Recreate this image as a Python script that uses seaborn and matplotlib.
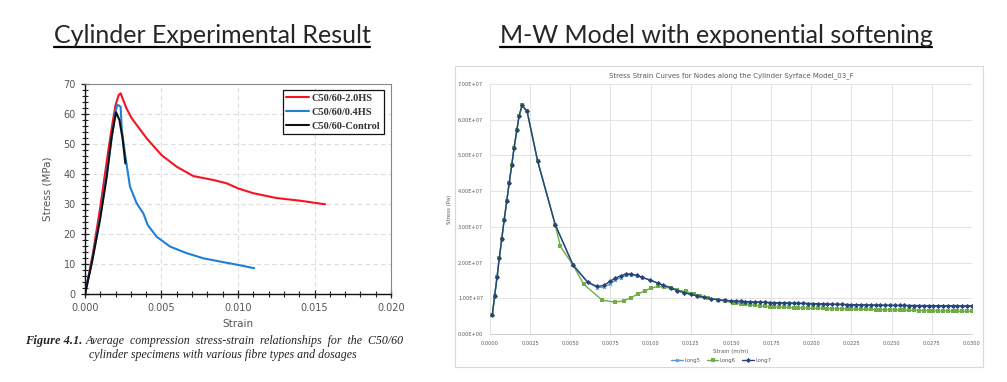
import numpy as np
import pandas as pd
import matplotlib
matplotlib.use('Agg')
import matplotlib.pyplot as plt
import seaborn as sns
from matplotlib.lines import Line2D
from matplotlib.patches import Rectangle
from matplotlib.ticker import MultipleLocator, FormatStrFormatter, FuncFormatter

# ---------------- left chart: experimental curves (strain [-], stress [MPa]) ----------------
hs20_strain = [0.0, 0.0005, 0.0010, 0.0015, 0.0018, 0.0020, 0.0022, 0.00233, 0.0027, 0.00305,
               0.00403, 0.0050, 0.0060, 0.00708, 0.00839, 0.00926, 0.0100, 0.0110, 0.0125,
               0.01405, 0.01569]
hs20_stress = [0, 13, 29, 47, 57, 63, 66.3, 66.9, 62, 58.6, 51.9, 46.3, 42.4, 39.3, 38.0, 36.9,
               35.2, 33.6, 32.0, 31.1, 29.9]

hs04_strain = [0.0, 0.0005, 0.0010, 0.0015, 0.0018, 0.0020, 0.00211, 0.0022, 0.00233, 0.0024,
               0.00261, 0.00294, 0.00338, 0.00381, 0.0041, 0.00468, 0.00556, 0.00665, 0.00773,
               0.00904, 0.0100, 0.01105]
hs04_stress = [0, 12, 26, 43, 54, 61, 63, 62.9, 62.4, 55, 46.9, 35.8, 30.2, 26.9, 23.0, 19.1,
               15.8, 13.6, 11.9, 10.6, 9.7, 8.6]

ctrl_strain = [0.0, 0.00044, 0.00098, 0.00142, 0.00174, 0.00203, 0.00225, 0.00245, 0.00264]
ctrl_stress = [0, 10.2, 24.7, 39.0, 52.4, 60.6, 58.0, 52.0, 43.5]

# ---------------- right chart: model curves (strain [m/m], stress [1e7 Pa]) ----------------
head_strain = [0.00014, 0.00029, 0.00044, 0.00058, 0.00073, 0.00088, 0.00104, 0.00119, 0.00135,
               0.00150, 0.00167, 0.00181, 0.00200, 0.00231, 0.00296, 0.00406]
head_stress = [0.53, 1.07, 1.60, 2.13, 2.66, 3.19, 3.71, 4.22, 4.72, 5.22, 5.70, 6.11, 6.40,
               6.23, 4.85, 3.06]

long7_mid_strain = [0.00517, 0.00608, 0.00667, 0.00708, 0.00746, 0.00779, 0.00813, 0.00846,
                    0.00879, 0.00913, 0.00946, 0.00996, 0.01046, 0.01079, 0.01125, 0.01167,
                    0.01208, 0.0125, 0.0129, 0.0133, 0.01375, 0.0142, 0.0146, 0.0150]
long7_mid_stress = [1.93, 1.45, 1.33, 1.36, 1.47, 1.56, 1.63, 1.68, 1.68, 1.64, 1.59, 1.51,
                    1.42, 1.36, 1.30, 1.21, 1.16, 1.11, 1.07, 1.03, 0.99, 0.96, 0.94, 0.93]
long5_mid_stress = [1.93, 1.45, 1.30, 1.31, 1.40, 1.50, 1.58, 1.64, 1.66, 1.63, 1.58, 1.51,
                    1.42, 1.36, 1.30, 1.21, 1.16, 1.11, 1.07, 1.03, 0.99, 0.96, 0.94, 0.93]

long6_mid_strain = [0.00438, 0.00517, 0.00583, 0.00698, 0.00777, 0.00833, 0.00879, 0.00921,
                    0.00963, 0.0100, 0.01046, 0.01083, 0.01125, 0.01167, 0.01219, 0.0127,
                    0.0131, 0.0136, 0.0142, 0.0146, 0.0151]
long6_mid_stress = [2.45, 1.93, 1.39, 0.95, 0.89, 0.93, 1.02, 1.12, 1.21, 1.28, 1.33, 1.31,
                    1.28, 1.23, 1.19, 1.12, 1.07, 1.01, 0.95, 0.92, 0.88]

tail_strain = np.round(np.arange(0.0153, 0.03001, 0.0003), 4)
long7_tail = [0.920, 0.914, 0.908, 0.902, 0.896, 0.891, 0.886, 0.881, 0.877, 0.873,
              0.869, 0.865, 0.862, 0.859, 0.856, 0.853, 0.850, 0.846, 0.842, 0.838,
              0.834, 0.830, 0.827, 0.824, 0.821, 0.818, 0.815, 0.812, 0.810, 0.808,
              0.806, 0.804, 0.802, 0.800, 0.799, 0.798, 0.797, 0.796, 0.795, 0.794,
              0.793, 0.792, 0.791, 0.790, 0.789, 0.788, 0.787, 0.786, 0.786, 0.785]
long5_tail = [0.918, 0.912, 0.906, 0.900, 0.895, 0.890, 0.885, 0.880, 0.876, 0.872,
              0.868, 0.864, 0.861, 0.858, 0.855, 0.852, 0.849, 0.845, 0.841, 0.837,
              0.833, 0.829, 0.826, 0.823, 0.820, 0.817, 0.814, 0.811, 0.809, 0.807,
              0.805, 0.803, 0.801, 0.799, 0.798, 0.797, 0.796, 0.795, 0.794, 0.793,
              0.792, 0.791, 0.790, 0.789, 0.788, 0.787, 0.786, 0.785, 0.785, 0.784]
long6_tail = [0.860, 0.845, 0.830, 0.815, 0.801, 0.789, 0.776, 0.762, 0.757, 0.752,
              0.748, 0.743, 0.739, 0.734, 0.730, 0.725, 0.721, 0.718, 0.715, 0.713,
              0.710, 0.708, 0.705, 0.703, 0.700, 0.697, 0.693, 0.690, 0.686, 0.683,
              0.679, 0.676, 0.672, 0.670, 0.667, 0.665, 0.662, 0.660, 0.657, 0.655,
              0.652, 0.650, 0.648, 0.646, 0.644, 0.642, 0.640, 0.638, 0.637, 0.635]

sns.set_style('white')
plt.rcParams['font.family'] = ['DejaVu Sans']

fig = plt.figure(figsize=(10.07, 3.82), dpi=100)

# ---------------- left chart ----------------
ax1 = fig.add_axes([0.0844, 0.2304, 0.3039, 0.5497])
left_df = pd.concat([
    pd.DataFrame({'strain': hs20_strain, 'stress': hs20_stress, 'mix': 'C50/60-2.0HS'}),
    pd.DataFrame({'strain': hs04_strain, 'stress': hs04_stress, 'mix': 'C50/60/0.4HS'}),
    pd.DataFrame({'strain': ctrl_strain, 'stress': ctrl_stress, 'mix': 'C50/60-Control'}),
])
left_palette = {'C50/60-2.0HS': '#f5141e', 'C50/60/0.4HS': '#1f7fd6', 'C50/60-Control': '#111111'}
sns.lineplot(data=left_df, x='strain', y='stress', hue='mix', palette=left_palette,
             linewidth=1.5, sort=False, estimator=None, ax=ax1)
ax1.set_xlim(0, 0.020)
ax1.set_ylim(0, 70)
ax1.xaxis.set_major_locator(MultipleLocator(0.005))
ax1.xaxis.set_minor_locator(MultipleLocator(0.001))
ax1.yaxis.set_major_locator(MultipleLocator(10))
ax1.yaxis.set_minor_locator(MultipleLocator(2))
ax1.xaxis.set_major_formatter(FormatStrFormatter('%.3f'))
ax1.tick_params(which='both', bottom=True, left=True, direction='inout', colors='#222222',
                labelcolor='#555555', labelsize=7)
ax1.tick_params(which='major', length=6, width=0.9)
ax1.tick_params(which='minor', length=5, width=0.8)
ax1.grid(True, which='major', color='#dddddd', linestyle=(0, (4, 3)), linewidth=0.8)
for side in ['left', 'bottom']:
    ax1.spines[side].set_color('#111111')
    ax1.spines[side].set_linewidth(1.0)
for side in ['top', 'right']:
    ax1.spines[side].set_color('#888888')
    ax1.spines[side].set_linewidth(0.8)
ax1.set_xlabel('Strain', fontsize=7.5, color='#555555', labelpad=4)
ax1.set_ylabel('Stress (MPa)', fontsize=7.5, color='#555555', labelpad=8)
leg1 = ax1.legend(loc='upper right', bbox_to_anchor=(0.993, 0.998), fancybox=False,
                  framealpha=1, edgecolor='#111111', handlelength=2.2, handletextpad=0.2,
                  borderpad=0.35, labelspacing=0.45, prop={'family': 'Liberation Serif',
                                                          'weight': 'bold', 'size': 7.5})
leg1.get_frame().set_linewidth(0.9)
for t in leg1.get_texts():
    t.set_color('#333333')

# caption under left chart
fig.text(0.025, 1 - 344 / 382, 'Figure 4.1.', fontsize=9, family='Liberation Serif',
         style='italic', weight='bold', va='baseline')
fig.text(0.085, 1 - 344 / 382,
         'Average  compression  stress-strain  relationships  for  the  C50/60',
         fontsize=8.6, family='Liberation Serif', style='italic', color='#222222', va='baseline')
fig.text(0.088, 1 - 358 / 382, 'cylinder specimens with various fibre types and dosages',
         fontsize=8.6, family='Liberation Serif', style='italic', color='#222222', va='baseline')

# ---------------- right chart ----------------
fig.add_artist(Rectangle((0.4518, 0.0393), 0.5244, 0.7879, transform=fig.transFigure,
                         facecolor='white', edgecolor='#d9d9d9', linewidth=0.8, zorder=0))
ax2 = fig.add_axes([0.4866, 0.1257, 0.4786, 0.6545])
right_df = pd.concat([
    pd.DataFrame({'strain': np.concatenate([head_strain, long7_mid_strain, tail_strain]),
                  'stress': np.concatenate([head_stress, long5_mid_stress, long5_tail]) * 1e7,
                  'node': 'Long5'}),
    pd.DataFrame({'strain': np.concatenate([head_strain, long6_mid_strain, tail_strain]),
                  'stress': np.concatenate([head_stress, long6_mid_stress, long6_tail]) * 1e7,
                  'node': 'Long6'}),
    pd.DataFrame({'strain': np.concatenate([head_strain, long7_mid_strain, tail_strain]),
                  'stress': np.concatenate([head_stress, long7_mid_stress, long7_tail]) * 1e7,
                  'node': 'Long7'}),
])
right_palette = {'Long5': '#5b9bd5', 'Long6': '#70ad47', 'Long7': '#264478'}
sns.lineplot(data=right_df, x='strain', y='stress', hue='node', style='node',
             palette=right_palette, markers={'Long5': 'X', 'Long6': 's', 'Long7': 'D'},
             dashes=False, markersize=2.6, markeredgewidth=0, linewidth=1.0, sort=False,
             estimator=None, ax=ax2)
ax2.set_xlim(0, 0.030)
ax2.set_ylim(0, 7e7)
ax2.xaxis.set_major_locator(MultipleLocator(0.0025))
ax2.yaxis.set_major_locator(MultipleLocator(1e7))
ax2.xaxis.set_major_formatter(FormatStrFormatter('%.4f'))
ax2.yaxis.set_major_formatter(FuncFormatter(lambda v, p: f'{v:.2E}'))
ax2.tick_params(length=0, labelsize=3.6, labelcolor='#595959', pad=5)
ax2.grid(True, color='#e3e3e3', linewidth=0.7)
for side in ['top', 'right', 'left']:
    ax2.spines[side].set_visible(False)
ax2.spines['bottom'].set_color('#d0d0d0')
ax2.spines['bottom'].set_linewidth(0.7)
ax2.set_xlabel('Strain (m/m)', fontsize=4, color='#595959', labelpad=2)
ax2.set_ylabel('Stress (Pa)', fontsize=4, color='#595959', labelpad=4)
ax2.set_title('Stress Strain Curves for Nodes along the Cylinder Syrface Model_03_F',
              fontsize=5.0, color='#595959', pad=5)
ax2.legend(loc='center', bbox_to_anchor=(0.48, -0.105), ncol=3, frameon=False,
           fontsize=3.8, handlelength=2.2, handletextpad=0.3, columnspacing=1.2,
           labelcolor='#595959')

# ---------------- underlined headings ----------------
heads = [(212 / 1007, 'Cylinder Experimental Result'),
         (716 / 1007, 'M-W Model with exponential softening')]
base_y = 1 - 43 / 382
head_texts = [fig.text(x, base_y, s, fontsize=18, family='Lato', ha='center', va='baseline')
              for x, s in heads]
fig.canvas.draw()
inv = fig.transFigure.inverted()
for t in head_texts:
    bb = t.get_window_extent(fig.canvas.get_renderer())
    (x0, _), (x1, _) = inv.transform([[bb.x0, bb.y0], [bb.x1, bb.y1]])
    fig.add_artist(Line2D([x0, x1], [base_y - 4 / 382] * 2, color='black', linewidth=1.6,
                          transform=fig.transFigure))

fig.savefig('out.png', dpi=100)
